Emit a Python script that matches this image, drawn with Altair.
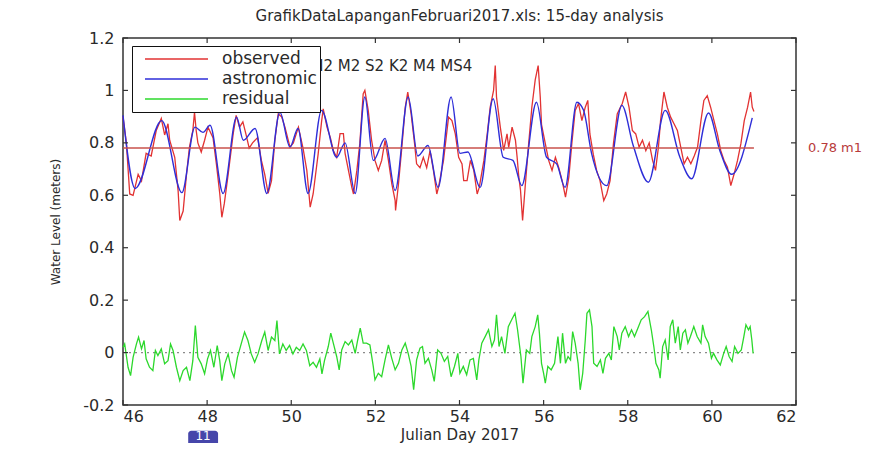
import altair as alt
import pandas as pd

# ---------------- data ----------------
astro_day = [46.00, 46.29, 46.92, 47.40, 47.71, 47.90, 48.07, 48.38, 48.70, 48.86,
             49.14, 49.42, 49.73, 49.97, 50.16, 50.40, 50.72, 51.08, 51.28, 51.52,
             51.75, 51.95, 52.23, 52.47, 52.78, 53.01, 53.25, 53.49, 53.80, 54.01,
             54.20, 54.49, 54.80, 55.04, 55.27, 55.48, 55.83, 56.07, 56.31, 56.51,
             56.79, 56.95, 57.14, 57.50, 57.86, 58.13, 58.49, 58.89, 59.24, 59.52,
             59.92, 60.19, 60.47, 60.96]
astro_val = [0.905, 0.626, 0.885, 0.610, 0.860, 0.840, 0.867, 0.607, 0.898, 0.810,
             0.855, 0.607, 0.917, 0.784, 0.855, 0.607, 0.924, 0.745, 0.800, 0.607,
             0.975, 0.733, 0.817, 0.618, 0.975, 0.750, 0.790, 0.630, 0.975, 0.760,
             0.765, 0.630, 0.968, 0.745, 0.733, 0.637, 0.955, 0.745, 0.720, 0.630,
             0.955, 0.924, 0.760, 0.637, 0.943, 0.790, 0.650, 0.924, 0.745, 0.663,
             0.914, 0.770, 0.680, 0.895]

obs_day = [46.00, 46.08, 46.16, 46.24, 46.36, 46.44, 46.55, 46.67, 46.79, 46.91,
           46.99, 47.07, 47.11, 47.23, 47.31, 47.35, 47.43, 47.51, 47.58, 47.66,
           47.70, 47.74, 47.78, 47.86, 47.94, 48.02, 48.14, 48.22, 48.30, 48.35,
           48.41, 48.50, 48.62, 48.69, 48.77, 48.85, 48.92, 49.00, 49.08, 49.20,
           49.29, 49.37, 49.45, 49.53, 49.61, 49.69, 49.77, 49.85, 49.97, 50.05,
           50.17, 50.28, 50.37, 50.45, 50.52, 50.64, 50.72, 50.76, 50.85, 50.93,
           51.00, 51.08, 51.16, 51.24, 51.28, 51.36, 51.44, 51.48, 51.56, 51.63,
           51.71, 51.75, 51.83, 51.91, 51.99, 52.07, 52.15, 52.23, 52.31, 52.39,
           52.47, 52.48, 52.55, 52.63, 52.71, 52.77, 52.85, 52.93, 52.98, 53.06,
           53.14, 53.22, 53.30, 53.38, 53.46, 53.50, 53.62, 53.74, 53.82, 53.90,
           53.98, 54.06, 54.10, 54.18, 54.26, 54.34, 54.42, 54.47, 54.58, 54.66,
           54.73, 54.81, 54.85, 54.88, 54.97, 55.05, 55.13, 55.17, 55.25, 55.33,
           55.37, 55.41, 55.45, 55.50, 55.56, 55.63, 55.72, 55.80, 55.87, 55.92,
           55.95, 56.04, 56.12, 56.20, 56.28, 56.36, 56.44, 56.52, 56.60, 56.67,
           56.75, 56.83, 56.91, 56.99, 57.05, 57.10, 57.18, 57.26, 57.34, 57.43,
           57.50, 57.58, 57.66, 57.75, 57.87, 57.95, 58.03, 58.11, 58.19, 58.27,
           58.35, 58.43, 58.51, 58.59, 58.66, 58.73, 58.78, 58.86, 58.94, 59.02,
           59.10, 59.18, 59.26, 59.34, 59.42, 59.50, 59.58, 59.66, 59.74, 59.81,
           59.89, 59.97, 60.05, 60.13, 60.21, 60.29, 60.37, 60.45, 60.53, 60.61,
           60.69, 60.77, 60.85, 60.92, 60.96, 61.00]
obs_val = [0.900, 0.800, 0.605, 0.600, 0.680, 0.655, 0.760, 0.750, 0.847, 0.893,
           0.830, 0.873, 0.810, 0.745, 0.618, 0.504, 0.540, 0.680, 0.784, 0.847,
           0.917, 0.847, 0.800, 0.765, 0.810, 0.860, 0.820, 0.720, 0.607, 0.516,
           0.570, 0.680, 0.835, 0.905, 0.860, 0.880, 0.835, 0.780, 0.800, 0.820,
           0.733, 0.680, 0.607, 0.655, 0.810, 0.910, 0.900, 0.860, 0.784, 0.800,
           0.860, 0.780, 0.695, 0.555, 0.605, 0.758, 0.880, 0.930, 0.860, 0.820,
           0.771, 0.745, 0.835, 0.835, 0.760, 0.695, 0.630, 0.605, 0.695, 0.797,
           0.987, 1.000, 0.924, 0.810, 0.733, 0.695, 0.733, 0.810, 0.733, 0.644,
           0.580, 0.542, 0.644, 0.784, 0.936, 0.994, 0.910, 0.800, 0.720, 0.705,
           0.745, 0.705, 0.770, 0.695, 0.605, 0.630, 0.733, 0.898, 0.885, 0.834,
           0.745, 0.720, 0.656, 0.656, 0.733, 0.695, 0.605, 0.630, 0.733, 0.834,
           0.936, 1.000, 1.095, 0.975, 0.860, 0.771, 0.834, 0.783, 0.860, 0.810,
           0.745, 0.670, 0.620, 0.504, 0.630, 0.770, 0.936, 1.040, 1.095, 0.975,
           0.870, 0.797, 0.733, 0.695, 0.745, 0.705, 0.656, 0.593, 0.670, 0.797,
           0.924, 0.950, 0.885, 0.936, 0.962, 0.834, 0.757, 0.695, 0.656, 0.580,
           0.605, 0.656, 0.797, 0.910, 0.950, 0.994, 0.936, 0.847, 0.834, 0.784,
           0.810, 0.770, 0.800, 0.733, 0.695, 0.784, 0.885, 0.994, 0.936, 0.898,
           0.873, 0.847, 0.784, 0.720, 0.745, 0.720, 0.750, 0.784, 0.885, 0.962,
           0.980, 0.936, 0.885, 0.834, 0.771, 0.733, 0.707, 0.637, 0.682, 0.733,
           0.797, 0.885, 0.936, 0.994, 0.936, 0.920]

res_day = [46.00, 46.04, 46.12, 46.18, 46.24, 46.32, 46.37, 46.44, 46.50, 46.55,
           46.63, 46.71, 46.77, 46.83, 46.91, 46.99, 47.07, 47.13, 47.19, 47.27,
           47.35, 47.43, 47.51, 47.59, 47.66, 47.72, 47.78, 47.86, 47.94, 48.01,
           48.08, 48.16, 48.24, 48.30, 48.35, 48.42, 48.50, 48.58, 48.64, 48.72,
           48.81, 48.89, 48.97, 49.05, 49.13, 49.21, 49.30, 49.37, 49.45, 49.53,
           49.61, 49.66, 49.72, 49.80, 49.88, 49.96, 50.04, 50.12, 50.20, 50.28,
           50.36, 50.44, 50.52, 50.60, 50.68, 50.73, 50.79, 50.88, 50.94, 51.00,
           51.08, 51.14, 51.20, 51.28, 51.36, 51.44, 51.52, 51.58, 51.64, 51.71,
           51.79, 51.87, 51.95, 51.99, 52.07, 52.15, 52.23, 52.31, 52.39, 52.47,
           52.55, 52.63, 52.71, 52.78, 52.85, 52.91, 52.98, 53.06, 53.12, 53.18,
           53.26, 53.34, 53.40, 53.48, 53.56, 53.64, 53.72, 53.80, 53.88, 53.96,
           54.01, 54.09, 54.17, 54.25, 54.33, 54.41, 54.46, 54.53, 54.61, 54.69,
           54.77, 54.83, 54.88, 54.94, 55.00, 55.08, 55.16, 55.24, 55.32, 55.38,
           55.46, 55.51, 55.59, 55.67, 55.72, 55.80, 55.86, 55.90, 55.95, 56.00,
           56.04, 56.10, 56.18, 56.26, 56.34, 56.40, 56.45, 56.52, 56.58, 56.64,
           56.69, 56.75, 56.82, 56.87, 56.93, 56.99, 57.03, 57.09, 57.15, 57.19,
           57.27, 57.35, 57.41, 57.47, 57.55, 57.61, 57.67, 57.75, 57.80, 57.86,
           57.94, 58.02, 58.09, 58.16, 58.24, 58.32, 58.40, 58.48, 58.56, 58.62,
           58.67, 58.74, 58.77, 58.83, 58.89, 58.96, 59.01, 59.07, 59.13, 59.20,
           59.25, 59.31, 59.37, 59.43, 59.49, 59.57, 59.65, 59.74, 59.78, 59.84,
           59.92, 59.99, 60.04, 60.12, 60.20, 60.28, 60.34, 60.41, 60.48, 60.54,
           60.62, 60.70, 60.76, 60.81, 60.87, 60.91, 60.95, 60.98]
res_val = [0.020, 0.033, -0.056, -0.088, -0.018, 0.033, 0.059, 0.014, 0.046, -0.024,
           -0.056, -0.069, 0.008, -0.011, 0.014, -0.043, -0.031, 0.033, 0.008, -0.056,
           -0.107, -0.069, -0.056, -0.107, -0.031, 0.103, -0.018, -0.043, -0.081, -0.024,
           0.008, -0.056, 0.027, -0.031, -0.107, -0.043, -0.005, -0.069, -0.094, -0.018,
           0.033, 0.078, 0.046, -0.005, -0.037, -0.005, 0.046, 0.078, 0.008, 0.059,
           0.046, 0.122, -0.005, 0.033, 0.008, 0.027, -0.005, 0.020, 0.008, 0.033,
           0.008, -0.050, -0.037, -0.056, -0.024, -0.081, -0.031, 0.023, 0.074, 0.036,
           -0.015, -0.066, 0.010, 0.042, 0.029, 0.048, -0.003, 0.048, 0.093, 0.036,
           0.036, 0.029, -0.053, -0.104, -0.079, -0.092, -0.028, 0.029, -0.022, -0.066,
           -0.041, 0.010, 0.036, -0.003, -0.053, -0.142, -0.028, 0.017, 0.023, -0.041,
           -0.022, -0.066, -0.110, 0.010, -0.003, -0.034, -0.015, -0.092, -0.053, -0.003,
           -0.079, -0.053, -0.085, -0.028, -0.022, -0.104, -0.028, 0.036, 0.061, 0.087,
           0.023, 0.048, 0.144, 0.023, 0.061, -0.003, 0.099, 0.125, 0.150, 0.087,
           -0.015, -0.117, 0.010, -0.003, 0.061, 0.099, 0.144, 0.074, -0.041, -0.079,
           -0.117, -0.053, -0.066, -0.041, 0.061, -0.041, 0.074, -0.041, -0.015, -0.028,
           0.080, 0.036, -0.041, -0.142, -0.079, 0.048, 0.150, 0.163, 0.099, -0.041,
           -0.053, -0.028, -0.079, -0.022, -0.003, -0.028, 0.099, 0.061, 0.010, 0.074,
           0.099, 0.061, 0.087, 0.061, 0.093, 0.125, 0.137, 0.157, 0.087, 0.023,
           -0.041, -0.066, -0.098, 0.023, 0.048, -0.028, 0.099, 0.125, 0.036, 0.099,
           0.010, 0.074, 0.087, 0.036, 0.061, 0.099, 0.061, 0.036, 0.106, 0.061,
           0.036, -0.022, -0.003, -0.028, -0.047, -0.003, 0.023, -0.015, -0.034, 0.023,
           -0.003, 0.010, 0.061, 0.106, 0.087, 0.099, 0.048, -0.003]

series_names = ["observed", "astronomic", "residual"]
series_colors = ["#e23232", "#2e2ed8", "#2cd82c"]

x_ticks = [46, 48, 50, 52, 54, 56, 58, 60, 62]
y_ticks = [-0.2, 0, 0.2, 0.4, 0.6, 0.8, 1, 1.2]

mean_level = 0.78
mean_label = "0.78 m1"
constituents = "N2 M2 S2 K2 M4 MS4"
title_text = "GrafikDataLapanganFebruari2017.xls: 15-day analysis"
badge_text = "11"

W, H = 673, 367
FONT = "DejaVu Sans"
INK = "#2a2a2a"

# ---------------- tables ----------------
obs_df = pd.DataFrame({"day": obs_day, "level": obs_val, "series": "observed"})
astro_df = pd.DataFrame({"day": astro_day, "level": astro_val, "series": "astronomic"})
res_df = pd.DataFrame({"day": res_day, "level": res_val, "series": "residual"})
span = [obs_day[0], obs_day[-1]]
mean_df = pd.DataFrame({"day": span, "level": [mean_level, mean_level]})
zero_df = pd.DataFrame({"day": span, "level": [0, 0]})
xt_df = pd.DataFrame({"day": x_ticks})
yt_df = pd.DataFrame({"level": y_ticks})
mean_lab_df = pd.DataFrame({"day": [x_ticks[-1]], "level": [mean_level], "t": [mean_label]})
const_df = pd.DataFrame({"day": [50.50], "level": [1.092], "t": [constituents]})
badge_df = pd.DataFrame({"day": [47.55], "day2": [48.26], "level": [-0.298], "level2": [-0.40]})
badge_txt_df = pd.DataFrame({"day": [47.905], "level": [-0.318], "t": [badge_text]})

x_enc = alt.X("day:Q", scale=alt.Scale(domain=[46, 62], nice=False, zero=False),
              axis=alt.Axis(values=x_ticks, title="Julian Day 2017", labelPadding=3,
                            titlePadding=3, titleFontSize=15))
y_enc = alt.Y("level:Q", scale=alt.Scale(domain=[-0.2, 1.2], nice=False, zero=False),
              axis=alt.Axis(values=y_ticks, labelExpr="'' + datum.value",
                            title="Water Level (meters)", labelPadding=9,
                            titlePadding=20, titleFontSize=12))
color_enc = alt.Color("series:N",
                      scale=alt.Scale(domain=series_names, range=series_colors),
                      legend=alt.Legend(orient="none", legendX=9, legendY=8, title=None,
                                        symbolType="stroke", symbolSize=3969,
                                        symbolStrokeWidth=1.5, clipHeight=20,
                                        labelFont=FONT, labelFontSize=17, labelColor=INK,
                                        padding=3, symbolOffset=9, labelOffset=13,
                                        rowPadding=0, strokeColor="#111",
                                        fillColor="white"))

obs_line = alt.Chart(obs_df).mark_line(strokeWidth=1.3).encode(x=x_enc, y=y_enc, color=color_enc)
astro_line = alt.Chart(astro_df).mark_line(strokeWidth=1.4, interpolate="monotone").encode(
    x=x_enc, y=y_enc, color=color_enc)
res_line = alt.Chart(res_df).mark_line(strokeWidth=1.3).encode(x=x_enc, y=y_enc, color=color_enc)
mean_line = alt.Chart(mean_df).mark_line(color="#c8524c", strokeWidth=1.5).encode(x=x_enc, y=y_enc)
zero_line = alt.Chart(zero_df).mark_line(color="#8a8a8a", strokeWidth=1.2,
                                         strokeDash=[2, 4]).encode(x=x_enc, y=y_enc)

tick_style = dict(color="#333", strokeWidth=1.2)
t_bottom = alt.Chart(xt_df).mark_rule(**tick_style).encode(x=x_enc, y=alt.value(H), y2=alt.value(H - 5))
t_top = alt.Chart(xt_df).mark_rule(**tick_style).encode(x=x_enc, y=alt.value(0), y2=alt.value(5))
t_left = alt.Chart(yt_df).mark_rule(**tick_style).encode(y=y_enc, x=alt.value(0), x2=alt.value(5))
t_right = alt.Chart(yt_df).mark_rule(**tick_style).encode(y=y_enc, x=alt.value(W - 5), x2=alt.value(W))

mean_text = alt.Chart(mean_lab_df).mark_text(align="left", baseline="middle", dx=12,
                                             font=FONT, fontSize=13, color="#b83a3a").encode(
    x=x_enc, y=y_enc, text="t:N")
const_text = alt.Chart(const_df).mark_text(align="left", baseline="middle", font=FONT,
                                           fontSize=15, color=INK).encode(
    x=x_enc, y=y_enc, text="t:N")
badge = alt.Chart(badge_df).mark_rect(color="#4646aa", cornerRadius=3).encode(
    x=x_enc, x2="day2:Q", y=y_enc, y2="level2:Q")
badge_txt = alt.Chart(badge_txt_df).mark_text(font=FONT, fontSize=12, color="white",
                                              baseline="middle").encode(
    x=x_enc, y=y_enc, text="t:N")

chart = alt.layer(
    const_text, zero_line, res_line, obs_line, astro_line, mean_line,
    t_bottom, t_top, t_left, t_right, mean_text, badge, badge_txt
).properties(
    width=W, height=H,
    autosize=alt.AutoSizeParams(type="none"),
    padding={"left": 115, "top": 30, "right": 78, "bottom": 38},
    title=alt.TitleParams(text=title_text, font=FONT, fontSize=15, fontWeight="normal",
                          color=INK, offset=6, anchor="middle"),
).configure_view(
    stroke="#333", strokeWidth=1.5
).configure_axis(
    domain=False, ticks=False, grid=False,
    labelFont=FONT, labelFontSize=16, labelColor=INK,
    titleFont=FONT, titleFontWeight="normal", titleColor=INK,
)

chart.save("out.html", embed_options={"renderer": "svg", "actions": False})
